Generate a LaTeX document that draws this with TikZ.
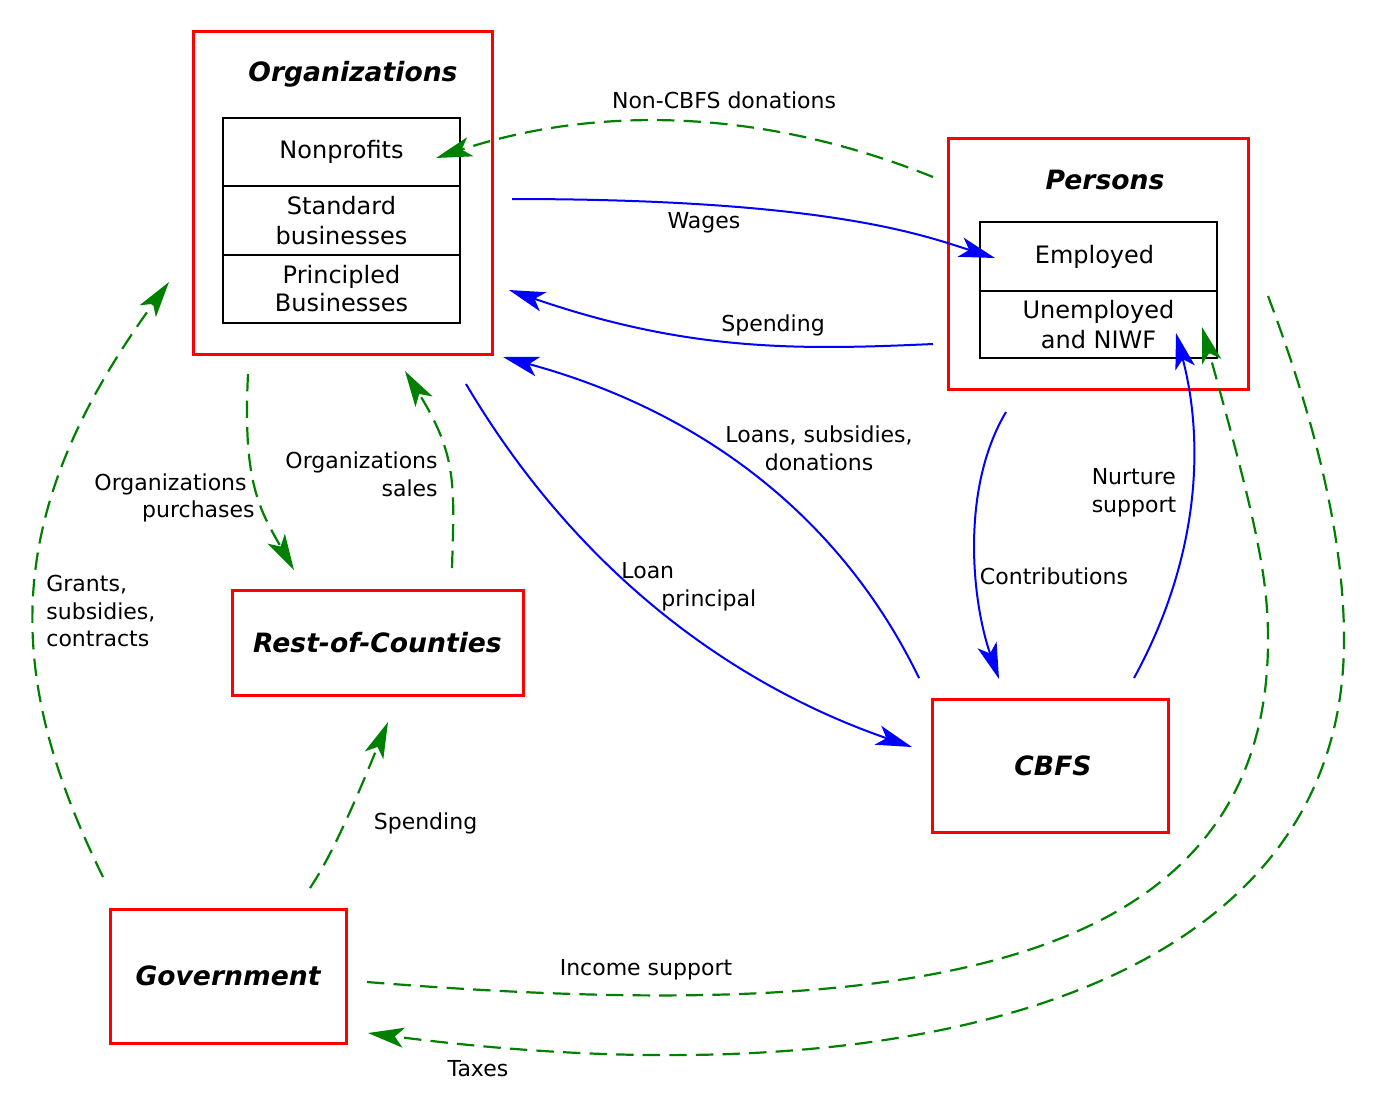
\documentclass[tikz,border=0pt]{standalone}
\usepackage{fontspec}
\setmainfont{DejaVu Sans}
\usetikzlibrary{arrows.meta}
\definecolor{boxred}{HTML}{FF0000}
\definecolor{flowblue}{HTML}{0000FF}
\definecolor{flowgreen}{HTML}{008000}
\tikzset{
  redbox/.style={draw=boxred, line width=1.5pt, rectangle, inner sep=0pt},
  cellbox/.style={draw=black, line width=0.75pt, rectangle, minimum width=118.5pt, inner sep=0pt, align=center, font=\fontsize{12}{15}\selectfont},
  ttl/.style={font=\fontsize{13.3}{16}\selectfont\bfseries\itshape, inner sep=0pt},
  lbl/.style={font=\fontsize{11}{13.8}\selectfont, inner sep=0pt},
  tip/.style={-{Stealth[length=18pt,width=10pt,inset=4.5pt]}},
  flowb/.style={draw=flowblue, line width=1pt, tip},
  flowg/.style={draw=flowgreen, line width=1.1pt, dash pattern=on 8.7pt off 4.6pt, tip}
}
\begin{document}
\begin{tikzpicture}[x=0.5pt,y=-0.5pt]
\useasboundingbox (0,0) rectangle (1379,1105);
\fill[white] (0,0) rectangle (1379,1105);

% boxes
\node[redbox, minimum width=149.5pt, minimum height=161.5pt] (org) at (342.5,192.5) {};
\node[ttl] (orgt) at (353,74) {Organizations};
\node[cellbox, minimum height=34pt] (np) at (341.5,152) {\raisebox{-1pt}{Nonprofits}};
\node[cellbox, minimum height=34.5pt] (sb) at (341.5,220.5) {Standard\\businesses};
\node[cellbox, minimum height=34pt] (pb) at (341.5,289) {\raisebox{-1pt}{Principled}\\Businesses};

\node[redbox, minimum width=150pt, minimum height=125.5pt] (per) at (1098,263.5) {};
\node[ttl] (pert) at (1105,180) {Persons};
\node[cellbox, minimum height=34.5pt] (emp) at (1098.5,256.5) {\hspace*{-4pt}\raisebox{-1pt}{Employed}};
\node[cellbox, minimum height=33.5pt] (unemp) at (1098.5,324.5) {Unemployed\\and NIWF};

\node[redbox, minimum width=145.5pt, minimum height=52.5pt, font=\fontsize{13.3}{16}\selectfont\bfseries\itshape] (roc) at (377.5,642.5) {Rest-of-Counties};
\node[redbox, minimum width=118pt, minimum height=66.5pt, font=\fontsize{13.3}{16}\selectfont\bfseries\itshape] (cbfs) at (1050,765.5) {\hspace*{3pt}CBFS};
\node[redbox, minimum width=118pt, minimum height=67pt, font=\fontsize{13.3}{16}\selectfont\bfseries\itshape] (gov) at (228,976) {Government};

% connector end points
\coordinate (ncA) at (933,177);   \coordinate (ncB) at (436,158);
\coordinate (wgA) at (512,199);   \coordinate (wgB) at (995,258);
\coordinate (spA) at (933,344);   \coordinate (spB) at (509,290);
\coordinate (lnA) at (919,678);   \coordinate (lnB) at (503,357);
\coordinate (lpA) at (466,384);   \coordinate (lpB) at (912,747);
\coordinate (ctA) at (1006,412);  \coordinate (ctB) at (999,679);
\coordinate (nuA) at (1134,678);  \coordinate (nuB) at (1176,333);
\coordinate (opA) at (248,374);   \coordinate (opB) at (294,570);
\coordinate (osA) at (452,568);   \coordinate (osB) at (405,371);
\coordinate (grA) at (103,877);   \coordinate (grB) at (169,282);
\coordinate (gsA) at (310,888);   \coordinate (gsB) at (388,722);
\coordinate (isA) at (367,982);   \coordinate (isB) at (1202,327);
\coordinate (txA) at (1268,296);  \coordinate (txB) at (368,1033);

% blue flows
\draw[flowb] (wgA) .. controls (830,199) and (925,236) .. (wgB);
\draw[flowb] (spA) .. controls (800,350) and (689,352) .. (spB);
\draw[flowb] (lnA) .. controls (841.7,518.3) and (703,411.3) .. (lnB);
\draw[flowb] (lpA) .. controls (576,570) and (730,684) .. (lpB);
\draw[flowb] (ctA) .. controls (960,489) and (972,602) .. (ctB);
\draw[flowb] (nuA) .. controls (1197,563) and (1206,448) .. (nuB);

% green flows
\draw[flowg] (ncA) .. controls (766.7,110) and (601,103.7) .. (ncB);
\draw[flowg] (opA) .. controls (242.6,482.6) and (259.5,509.4) .. (opB);
\draw[flowg] (osA) .. controls (454.5,484) and (457,455) .. (osB);
\draw[flowg] (grA) .. controls (3,673) and (0,514) .. (grB);
\draw[flowg] (gsA) .. controls (337,848) and (367,772) .. (gsB);
\draw[flowg] (isA) .. controls (867,1022) and (1268,990) .. (1268,640)
                   .. controls (1268,580) and (1258,527) .. (isB);
\draw[flowg] (txA) .. controls (1317,426) and (1344,540) .. (1344,640)
                   .. controls (1344,990) and (918,1104.5) .. (txB);

% labels
\node[lbl] (lnc) at (724,100) {Non-CBFS donations};
\node[lbl] (lwg) at (704,223) {Wages};
\node[lbl] (lsp) at (773,325) {Spending};
\node[lbl, align=center] (lln) at (819,448) {Loans, subsidies,\\donations};
\node[lbl, align=left, anchor=west] (llp) at (621,587) {Loan\\\hspace*{20pt}principal};
\node[lbl] (lct) at (1054,576) {Contributions};
\node[lbl, align=left] (lnu) at (1134,493) {Nurture\\support};
\node[lbl, align=right, anchor=east] (lop) at (255,498) {Organizations\hspace*{4pt}\\purchases};
\node[lbl, align=right, anchor=east] (los) at (438,474) {Organizations\\sales};
\node[lbl, align=left, anchor=west] (lgr) at (46,611) {Grants,\\subsidies,\\contracts};
\node[lbl] (lgs) at (425.5,823) {Spending};
\node[lbl] (lis) at (646,970) {Income support};
\node[lbl] (ltx) at (478,1069) {Taxes};
\end{tikzpicture}
\end{document}
